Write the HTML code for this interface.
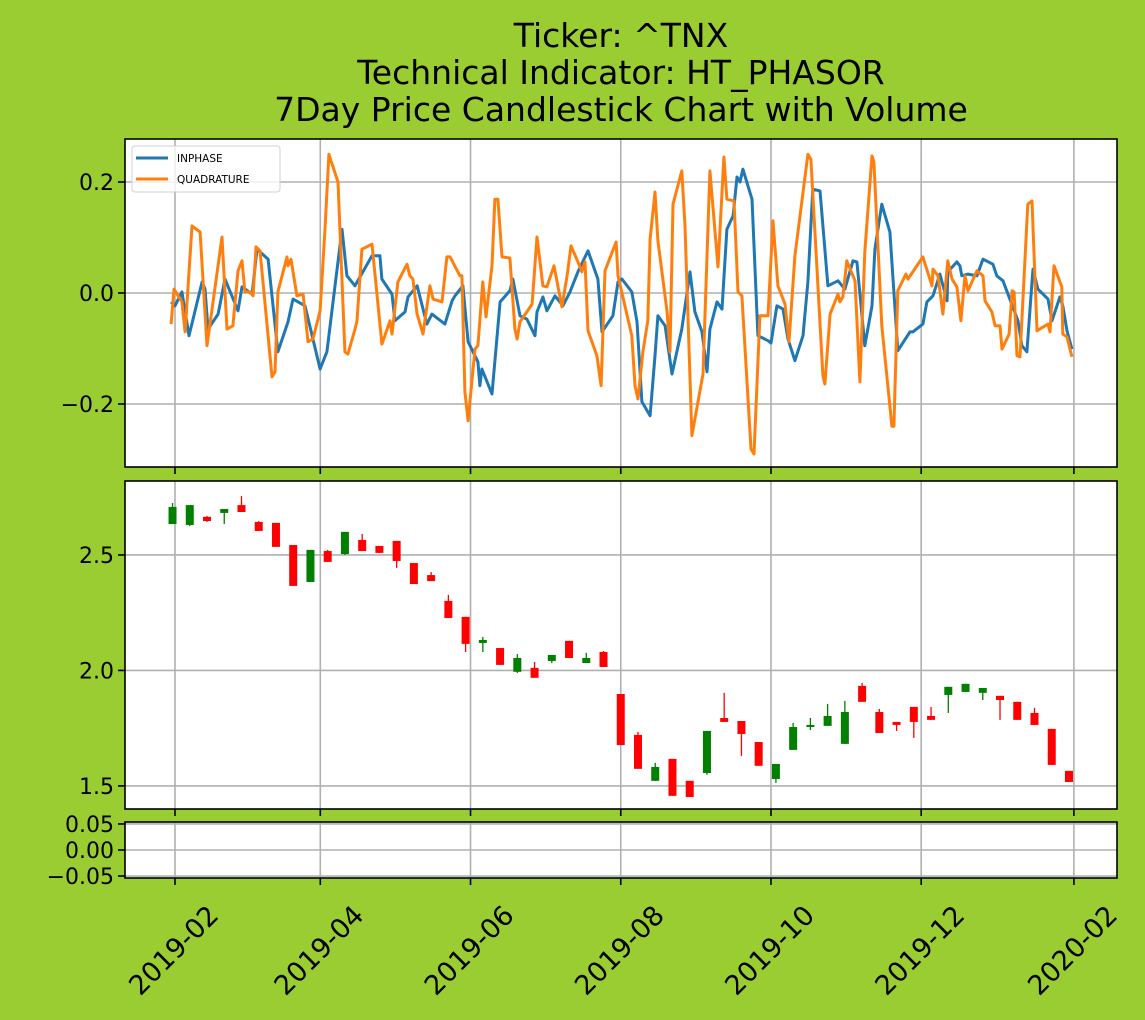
<!DOCTYPE html>
<html><head><meta charset="utf-8"><style>
html,body{margin:0;padding:0;background:#9acd32;}
svg{display:block;font-family:"DejaVu Sans","Liberation Sans",sans-serif;}
</style></head><body>
<svg id="chart" width="1145" height="1020" viewBox="0 0 1145 1020" xmlns="http://www.w3.org/2000/svg">
<rect x="0" y="0" width="1145" height="1020" fill="#9acd32"/>
<g font-size="33" text-anchor="middle" fill="#000">
<text x="621" y="47">Ticker: ^TNX</text>
<text x="621" y="84">Technical Indicator: HT_PHASOR</text>
<text x="621" y="121">7Day Price Candlestick Chart with Volume</text>
</g>
<g id="p1"></g>
<g id="p2"></g>
<g id="p3"></g>
</svg>
<script>
// Days offset from 2019-02-01
const inphaseDays=[-1.6,0,2.8,5.7,11.0,12.2,13.4,17.5,20.3,25.6,27.2,31.3,33.3,37.8,41.8,45.9,47.9,52.8,58.9,61.7,67.8,69.8,73.1,80.0,83.2,84.0,88.1,89.3,93.4,94.6,98.3,102.3,104.3,109.6,112.5,113.7,116.9,119.0,123.0,123.8,124.6,128.7,132.0,136.0,137.2,140.1,142.9,146.2,147.0,149.4,151.0,154.3,157.5,160.4,163.6,167.7,171.7,173.4,177.8,179.9,181.5,185.5,187.6,189.6,192.9,194.9,196.1,199.0,201.8,205.8,209.1,211.1,214.0,216.0,217.2,220.1,222.1,224.1,226.6,228.2,229.4,230.6,234.3,236.7,240.8,242.0,244.4,246.9,248.9,251.7,255.0,257.0,259.0,261.9,265.1,269.2,272.0,275.3,276.9,280.1,283.0,284.2,287.0,290.3,293.5,298.4,299.6,303.7,305.3,307.8,310.6,313.5,313.8,317.5,318.7,319.5,322.0,325.6,328.1,332.1,333.7,336.2,342.3,343.9,345.9,348.0,348.4,350.4,354.5,356.1,359.3,360.5,362.2,364.2];
const inphaseValues=[-0.016,-0.023,0.002,-0.077,0.020,0.007,-0.065,-0.038,0.025,-0.032,0.011,-0.002,0.079,0.061,-0.106,-0.052,-0.011,-0.023,-0.137,-0.106,0.115,0.031,0.013,0.067,0.067,0.025,-0.002,-0.050,-0.034,-0.007,0.013,-0.056,-0.038,-0.056,-0.014,-0.005,0.013,-0.088,-0.124,-0.167,-0.137,-0.182,-0.016,0.004,0.025,-0.041,-0.047,-0.077,-0.034,-0.007,-0.032,-0.005,-0.023,0.002,0.038,0.076,0.025,-0.070,-0.041,0.020,0.025,0.002,-0.052,-0.196,-0.221,-0.113,-0.041,-0.059,-0.146,-0.065,0.038,-0.034,-0.070,-0.142,-0.065,-0.016,-0.029,0.115,0.139,0.209,0.200,0.223,0.169,-0.077,-0.086,-0.090,-0.023,-0.029,-0.083,-0.122,-0.077,0.020,0.187,0.184,0.013,0.022,0.007,0.058,0.056,-0.095,-0.023,0.079,0.160,0.110,-0.104,-0.070,-0.070,-0.056,-0.016,-0.005,0.034,-0.014,0.038,0.056,0.049,0.031,0.034,0.031,0.061,0.052,0.031,0.022,-0.050,-0.095,-0.106,0.020,0.043,0.007,-0.011,-0.050,-0.007,-0.023,-0.068,-0.101];
const quadDays=[-1.6,-0.4,2.8,4.1,6.9,10.2,13.0,19.1,21.1,23.5,25.6,27.2,28.4,30.5,31.7,32.9,34.5,39.4,40.6,41.8,45.5,45.9,47.1,49.5,52.0,54.0,56.0,58.9,60.9,62.5,66.2,69.0,70.2,73.1,73.9,75.9,80.0,84.0,87.3,88.1,90.5,94.2,95.4,96.6,98.3,100.7,103.5,104.8,108.4,110.4,111.7,115.7,116.5,117.7,119.0,121.8,123.0,125.0,126.3,128.7,129.9,131.1,132.8,136.0,138.0,138.9,140.1,145.0,147.0,149.4,151.0,153.9,157.1,159.2,160.8,164.0,165.2,166.5,167.7,171.3,173.0,174.6,179.1,179.9,185.5,186.8,188.0,190.0,192.0,192.9,194.9,196.1,199.8,201.0,202.2,205.8,207.1,209.9,214.4,217.2,220.5,222.9,224.1,227.0,228.6,230.2,233.9,235.1,237.5,240.8,242.8,244.8,247.7,249.3,251.7,257.0,258.2,263.1,263.9,266.0,269.2,270.0,271.2,272.8,276.1,278.1,280.1,283.0,283.8,287.0,291.1,291.9,293.5,296.8,297.6,303.7,307.4,307.8,309.8,311.8,313.8,315.5,317.5,319.1,320.8,322.0,325.6,328.1,328.9,331.7,333.0,335.0,335.8,338.7,339.9,340.7,341.9,343.1,346.3,348.0,350.0,354.5,355.3,356.9,360.1,360.5,362.2,364.2];
const quadValues=[-0.056,0.007,-0.016,-0.070,0.121,0.110,-0.095,0.101,-0.065,-0.059,0.040,0.058,0.002,0.002,-0.005,0.083,0.076,-0.151,-0.142,0.002,0.065,0.049,0.061,-0.005,-0.002,-0.088,-0.083,-0.032,0.115,0.250,0.200,-0.106,-0.110,-0.065,-0.050,0.079,0.088,-0.092,-0.050,-0.074,0.020,0.052,0.031,0.025,-0.038,-0.074,0.013,-0.011,-0.016,0.065,0.065,0.031,0.031,-0.178,-0.230,-0.101,-0.095,0.020,-0.043,0.049,0.169,0.169,0.065,0.063,-0.065,-0.083,-0.052,-0.020,0.101,0.013,0.011,0.049,-0.025,0.031,0.085,0.052,0.038,0.056,-0.068,-0.113,-0.167,0.040,0.092,0.031,-0.077,-0.167,-0.191,-0.106,-0.050,0.097,0.182,0.094,-0.034,-0.106,0.160,0.220,0.121,-0.257,-0.146,0.220,0.047,0.245,0.169,0.166,0.002,-0.005,-0.281,-0.290,-0.041,-0.041,0.130,0.013,-0.020,-0.088,0.067,0.250,0.241,-0.149,-0.164,-0.038,-0.002,-0.016,-0.007,0.058,0.022,-0.160,0.074,0.247,0.236,-0.059,-0.240,-0.240,0.004,0.034,0.025,0.065,0.013,0.043,0.031,-0.038,0.058,0.025,0.011,-0.050,0.031,0.004,0.040,0.031,-0.014,-0.034,-0.059,-0.059,-0.101,-0.074,0.004,0.002,-0.113,-0.115,0.160,0.166,-0.068,-0.056,-0.070,0.049,0.011,-0.074,-0.079,-0.115];
// weekly candles: week index i -> day offset -1 + 7*i
const candleOpen=[2.634,2.630,2.665,2.682,2.716,2.643,2.639,2.543,2.383,2.517,2.504,2.565,2.539,2.561,2.465,2.413,2.301,2.232,2.119,2.097,1.994,2.011,2.041,2.128,2.032,2.080,1.898,1.721,1.522,1.617,1.522,1.556,1.794,1.781,1.690,1.530,1.656,1.755,1.760,1.682,1.933,1.820,1.777,1.842,1.803,1.894,1.907,1.903,1.890,1.864,1.816,1.747,1.565];
const candleClose=[2.708,2.716,2.647,2.699,2.686,2.604,2.535,2.366,2.522,2.470,2.600,2.517,2.509,2.474,2.374,2.387,2.227,2.115,2.132,2.024,2.054,1.968,2.067,2.054,2.054,2.015,1.677,1.574,1.582,1.457,1.452,1.738,1.777,1.725,1.587,1.595,1.755,1.764,1.803,1.820,1.864,1.729,1.764,1.777,1.786,1.929,1.942,1.924,1.872,1.786,1.764,1.591,1.517];
const candleHigh=[2.725,2.716,2.669,2.699,2.755,2.647,2.639,2.543,2.522,2.522,2.600,2.591,2.539,2.561,2.465,2.426,2.327,2.232,2.145,2.097,2.071,2.037,2.067,2.128,2.076,2.084,1.898,1.734,1.600,1.617,1.522,1.738,1.903,1.781,1.690,1.595,1.773,1.794,1.855,1.868,1.946,1.833,1.777,1.842,1.842,1.929,1.942,1.924,1.890,1.864,1.838,1.747,1.565];
const candleLow=[2.634,2.625,2.643,2.634,2.686,2.604,2.535,2.366,2.383,2.470,2.500,2.517,2.509,2.444,2.374,2.387,2.227,2.080,2.080,2.024,1.989,1.968,2.032,2.054,2.032,2.015,1.677,1.574,1.522,1.457,1.452,1.548,1.777,1.630,1.587,1.513,1.656,1.742,1.760,1.682,1.864,1.729,1.738,1.708,1.786,1.816,1.907,1.872,1.786,1.786,1.764,1.591,1.517];
const xTickLabels=["2019-02","2019-04","2019-06","2019-08","2019-10","2019-12","2020-02"];
const xTickDays=[0,59,120,181,242,303,365];
const p1Ticks=[-0.2,0.0,0.2];
const p1TickLabels=["\u22120.2","0.0","0.2"];
const p2Ticks=[1.5,2.0,2.5];
const p2TickLabels=["1.5","2.0","2.5"];
const p3Ticks=[-0.05,0,0.05];
const p3TickLabels=["\u22120.05","0.00","0.05"];

const NS="http://www.w3.org/2000/svg";
const L=125,R=1117;
const xMin=-20.3,xMax=382.5;
function xs(d){return L+(d-xMin)/(xMax-xMin)*(R-L);}
function mk(parent,tag,attrs){const e=document.createElementNS(NS,tag);for(const k in attrs)e.setAttribute(k,attrs[k]);parent.appendChild(e);return e;}
function panel(g,top,bot,vmin,vmax,ticks,labels,name,showXLabels){
  const ys=v=>bot-(v-vmin)/(vmax-vmin)*(bot-top);
  const bg=mk(g,'rect',{x:L,y:top,width:R-L,height:bot-top,fill:'#fff'});
  
  
  xTickDays.forEach((d,i)=>{
    const gl=mk(g,'line',{x1:xs(d),x2:xs(d),y1:top,y2:bot,stroke:'#b0b0b0','stroke-width':1.6});
    
    
    const tk=mk(g,'line',{x1:xs(d),x2:xs(d),y1:bot,y2:bot+7,stroke:'#000','stroke-width':1.6});
    
    
    if(showXLabels){
      const ax=xs(d)+45, ay=bot+39;
      const t=mk(g,'text',{x:ax,y:ay,'font-size':27,'text-anchor':'end',transform:'rotate(-45 '+ax+' '+ay+')'});
      t.textContent=xTickLabels[i];
      
      
    }
  });
  ticks.forEach((v,i)=>{
    const y=ys(v);
    const gl=mk(g,'line',{x1:L,x2:R,y1:y,y2:y,stroke:'#b0b0b0','stroke-width':1.6});
    
    
    const tk=mk(g,'line',{x1:L-7,x2:L,y1:y,y2:y,stroke:'#000','stroke-width':1.6});
    
    
    const t=mk(g,'text',{x:L-11,y:y+8,'font-size':22,'text-anchor':'end'});
    t.textContent=labels[i];
    
    
  });
  return ys;
}
function frame(g,top,bot,name){
  const f=mk(g,'rect',{x:L,y:top,width:R-L,height:bot-top,fill:'none',stroke:'#000','stroke-width':1.6});
  
  
}
// Panel 1
const g1=document.getElementById('p1');
const y1=panel(g1,139,467,-0.3135,0.2775,p1Ticks,p1TickLabels,'indicator',false);
function line(g,days,vals,ys,color,name){
  const pts=days.map((d,i)=>xs(d).toFixed(1)+','+ys(vals[i]).toFixed(1)).join(' ');
  const p=mk(g,'polyline',{points:pts,fill:'none',stroke:color,'stroke-width':3,'stroke-linejoin':'round'});
  
  
}
line(g1,inphaseDays,inphaseValues,y1,'#1f77b4','inphase-line');
line(g1,quadDays,quadValues,y1,'#ff7f0e','quadrature-line');
frame(g1,139,467,'indicator');
// legend
const lg=mk(g1,'g',{});


const lb=mk(lg,'rect',{x:132,y:146,width:148,height:46,rx:3,fill:'#fff',stroke:'#d0d0d0','stroke-width':1,'fill-opacity':0.8});


[['INPHASE','#1f77b4',159],['QUADRATURE','#ff7f0e',180]].forEach(e=>{
  const ln=mk(lg,'line',{x1:136,x2:168,y1:e[2]-1,y2:e[2]-1,stroke:e[1],'stroke-width':3});
  
  
  const t=mk(lg,'text',{x:177,y:e[2]+3,'font-size':10.5});
  t.textContent=e[0];
  
  
});
// Panel 2
const g2=document.getElementById('p2');
const y2=panel(g2,481,809,1.4,2.8203,p2Ticks,p2TickLabels,'price',false);
candleOpen.forEach((o,i)=>{
  const c=candleClose[i],h=candleHigh[i],l=candleLow[i];
  const d=-1+7*i, x=xs(d);
  const col=c>=o?'#008000':'#ff0000';
  const w=mk(g2,'line',{x1:x,x2:x,y1:y2(h),y2:y2(l),stroke:col,'stroke-width':1.3});
  
  
  const top=y2(Math.max(o,c)),bot=y2(Math.min(o,c));
  const b=mk(g2,'rect',{x:x-4,y:top,width:8,height:Math.max(1,bot-top),fill:col});
  
  
});
frame(g2,481,809,'price');
// Panel 3
const g3=document.getElementById('p3');
panel(g3,822,878,-0.0538,0.0538,p3Ticks,p3TickLabels,'volume',true);
frame(g3,822,878,'volume');
</script>
</body></html>
